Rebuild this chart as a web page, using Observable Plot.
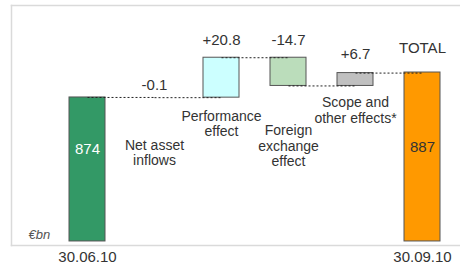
<!DOCTYPE html>
<html><head><meta charset="utf-8">
<script src="https://cdn.jsdelivr.net/npm/d3@7"></script>
<script src="https://cdn.jsdelivr.net/npm/@observablehq/plot@0.6"></script>
<style>
html,body{margin:0;padding:0;background:#fff;}
svg{display:block;}
</style>
</head><body>
<div id="chart"></div>
<script>
// ---- data ----
const steps = ["start", "net", "perf", "fx", "scope", "total"];
const tickLabels = ["30.06.10", "", "", "", "", "30.09.10"];
const startValue = 874;
const deltas = [-0.1, 20.8, -14.7, 6.7];
const totalValue = 887;
const deltaLabels = ["-0.1", "+20.8", "-14.7", "+6.7"];
const stepNames = ["Net asset\ninflows", "Performance\neffect", "Foreign\nexchange\neffect", "Scope and\nother effects*"];
const barColors = ["#339966", "none", "#ccffff", "#bbddbb", "#c0c0c0", "#ff9900"];
const axisFloor = 799;

// ---- build rows ----
const rows = [];
let level = startValue;
rows.push({id: steps[0], lo: axisFloor, hi: startValue, end: startValue, color: barColors[0]});
deltas.forEach((d, i) => {
  const from = level, to = level + d;
  rows.push({id: steps[i + 1], lo: Math.min(from, to), hi: Math.max(from, to), from, end: to,
             color: barColors[i + 1], label: deltaLabels[i], name: stepNames[i]});
  level = to;
});
rows.push({id: steps[5], lo: axisFloor, hi: totalValue, end: totalValue, color: barColors[5]});
const links = rows.slice(0, -1).map((r, i) => ({a: r.id, b: rows[i + 1].id, v: r.end}));
const visible = rows.filter(r => r.color !== "none");
const byId = Object.fromEntries(rows.map(r => [r.id, r]));

const font = "'Liberation Sans', Arial, sans-serif";
const ink = "#333333";
const T = (data, opts) => Plot.text(data, {fontSize: 15, fill: ink, fontFamily: font, ...opts});
const N = (data, opts) => Plot.text(data, {fontSize: 14, fill: ink, fontFamily: font, lineAnchor: "top", lineHeight: 1.12, ...opts});

const chart = Plot.plot({
  width: 460, height: 264,
  marginLeft: 11, marginRight: 0, marginTop: 5, marginBottom: 19,
  style: {fontFamily: font, background: "#fff"},
  x: {type: "band", domain: steps, range: [56, 454], paddingInner: 0.46, paddingOuter: 0.2, axis: null},
  y: {domain: [796.9, 921.9], axis: null},
  marks: [
    Plot.frame({anchor: "top", stroke: "#dadada", strokeWidth: 1.5}),
    Plot.frame({anchor: "left", stroke: "#dadada", strokeWidth: 1.5}),
    Plot.frame({anchor: "bottom", stroke: "#dadada", strokeWidth: 1.5}),
    Plot.barY(visible, {x: "id", y1: "lo", y2: "hi", fill: "color", stroke: "#555", strokeWidth: 1}),
    Plot.link(links, {x1: "a", x2: "b", y1: "v", y2: "v", stroke: "#222", strokeWidth: 1, strokeDasharray: "2,2"}),
    Plot.axisX({domain: steps, tickSize: 0, tickPadding: 6, fontSize: 15, fill: ink, fontFamily: font,
                tickFormat: (d, i) => tickLabels[steps.indexOf(d)]}),
    // delta value labels
    T([byId.net], {x: "id", y: "hi", text: "label", lineAnchor: "bottom", dy: -7}),
    T([byId.perf, byId.fx], {x: "id", y: "hi", text: "label", lineAnchor: "bottom", dy: -13}),
    T([byId.scope], {x: "id", y: "hi", text: "label", lineAnchor: "bottom", dy: -14}),
    T([byId.total], {x: "id", y: "hi", text: () => "TOTAL", lineAnchor: "bottom", dy: -20}),
    // step names
    N([byId.net], {x: "id", y: "lo", text: "name", dy: 41}),
    N([byId.perf], {x: "id", y: "lo", text: "name", dy: 12}),
    N([byId.fx], {x: "id", y: "lo", text: "name", dy: 38}),
    N([byId.scope], {x: "id", y: "lo", text: "name", dy: 10}),
    // totals inside bars
    T([byId.start], {x: "id", y: "hi", text: d => String(d.hi), fill: "#fff", lineAnchor: "bottom", dy: 57}),
    T([byId.total], {x: "id", y: "hi", text: d => String(d.hi), lineAnchor: "bottom", dy: 79}),
    // unit
    Plot.text(["€bn"], {frameAnchor: "bottom-left", text: d => d, dx: 17, dy: -7, fontSize: 13, fontStyle: "italic", fill: "#555", fontFamily: font, textAnchor: "start", lineAnchor: "bottom"})
  ]
});
document.getElementById("chart").appendChild(chart);
</script>
</body></html>
